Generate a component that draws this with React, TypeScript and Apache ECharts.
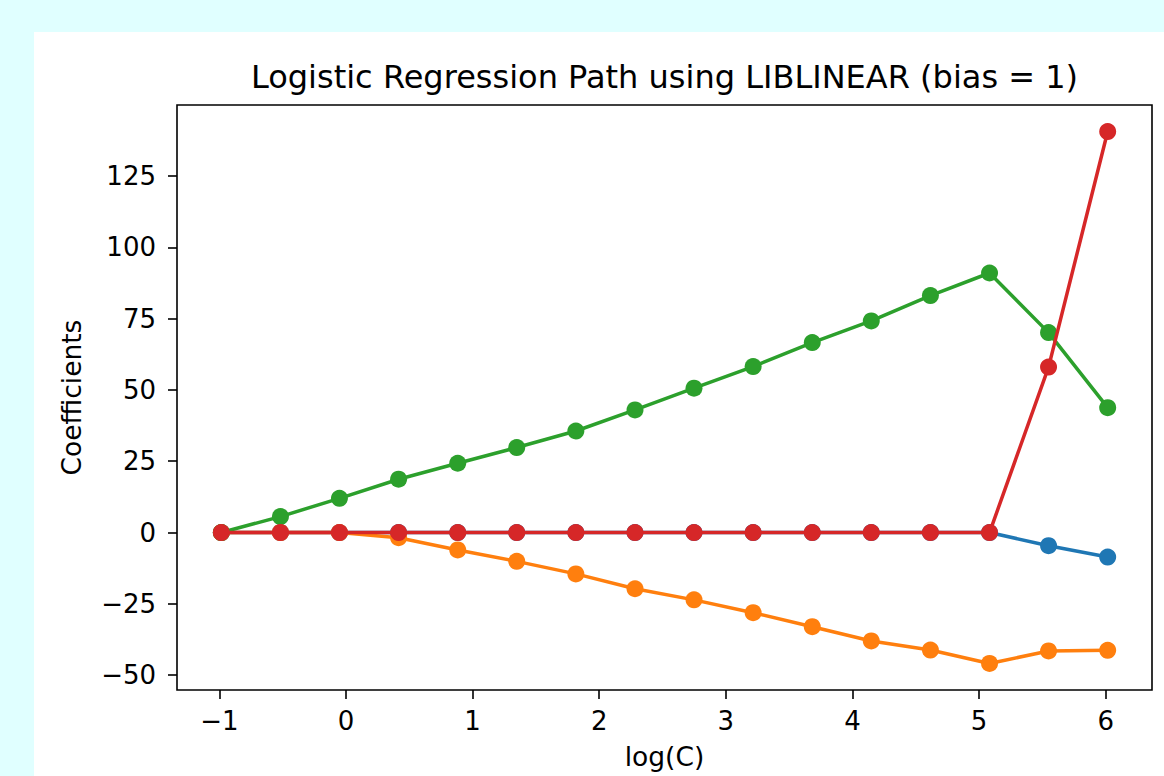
import React, { useEffect, useRef } from "react";
import * as echarts from "echarts";

const logC = [-0.984, -0.517, -0.051, 0.416, 0.883, 1.349, 1.816, 2.283, 2.749, 3.216, 3.683, 4.149, 4.616, 5.083, 5.549, 6.016];
const coefBlue = [0, 0, 0, 0, 0, 0, 0, 0, 0, 0, 0, 0, 0, 0, -4.6, -8.6];
const coefOrange = [0, 0, 0, -1.8, -6.1, -10.1, -14.5, -19.7, -23.6, -28.1, -33.0, -38.0, -41.2, -45.9, -41.5, -41.3];
const coefGreen = [0, 5.6, 12.0, 18.7, 24.3, 29.8, 35.6, 43.0, 50.6, 58.2, 66.6, 74.2, 83.1, 91.0, 70.1, 43.8];
const coefRed = [0, 0, 0, 0, 0, 0, 0, 0, 0, 0, 0, 0, 0, 0, 58.0, 140.6];
const xTicks = [-1, 0, 1, 2, 3, 4, 5, 6];
const yTicks = [-50, -25, 0, 25, 50, 75, 100, 125];
const seriesColors = ["#1f77b4", "#ff7f0e", "#2ca02c", "#d62728"];
const seriesNames = ["coef 0", "coef 1", "coef 2", "coef 3"];

const FONT = "DejaVu Sans";
const fmt = (v: number) => String(v).replace("-", "\u2212");

export default function App() {
  const ref = useRef<HTMLDivElement>(null);
  useEffect(() => {
    if (!ref.current) return;
    const chart = echarts.init(ref.current, null, { renderer: "svg" });
    const all = [coefBlue, coefOrange, coefGreen, coefRed];
    const gridLeft = 177, gridTop = 105, gridW = 975, gridH = 585;
    chart.setOption({
      animation: false,
      backgroundColor: "#e0ffff",
      graphic: [
        { type: "rect", z: -10, shape: { x: 34, y: 32, width: 1130, height: 744 }, style: { fill: "#ffffff" } },
        {
          type: "text", x: gridLeft + gridW / 2, y: 77,
          style: { text: "Logistic Regression Path using LIBLINEAR (bias = 1)", font: `32px "${FONT}"`, fill: "#000", align: "center", verticalAlign: "middle" },
        },
        {
          type: "text", x: gridLeft + gridW / 2, y: 756,
          style: { text: "log(C)", font: `26.5px "${FONT}"`, fill: "#000", align: "center", verticalAlign: "middle" },
        },
        {
          type: "text", x: 71, y: gridTop + gridH / 2, rotation: Math.PI / 2,
          style: { text: "Coefficients", font: `26.5px "${FONT}"`, fill: "#000", align: "center", verticalAlign: "middle" },
        },
      ],
      grid: { left: gridLeft, top: gridTop, width: gridW, height: gridH, show: true, borderColor: "#000", borderWidth: 1.6, backgroundColor: "transparent" },
      xAxis: {
        type: "value", min: -1.334, max: 6.366, position: "bottom",
        axisLine: { show: false, onZero: false },
        splitLine: { show: false },
        axisTick: { show: true, length: 9, inside: false, customValues: xTicks, lineStyle: { color: "#000", width: 1.6 } },
        axisLabel: { show: true, margin: 18, customValues: xTicks, formatter: (v: number) => fmt(v), color: "#000", fontFamily: FONT, fontSize: 26 },
      },
      yAxis: {
        type: "value", min: -55.2, max: 149.9, position: "left",
        axisLine: { show: false, onZero: false },
        splitLine: { show: false },
        axisTick: { show: true, length: 9, inside: false, customValues: yTicks, lineStyle: { color: "#000", width: 1.6 } },
        axisLabel: { show: true, margin: 21, customValues: yTicks, formatter: (v: number) => fmt(v), color: "#000", fontFamily: FONT, fontSize: 26 },
      },
      series: all.map((vals, i) => ({
        type: "line",
        name: seriesNames[i],
        z: 2 + i,
        data: logC.map((x, k) => [x, vals[k]]),
        symbol: "circle",
        symbolSize: 17,
        showSymbol: true,
        clip: false,
        lineStyle: { color: seriesColors[i], width: 3.5 },
        itemStyle: { color: seriesColors[i] },
        emphasis: { disabled: true },
      })),
    });
    return () => chart.dispose();
  }, []);
  return <div ref={ref} style={{ position: "fixed", left: 0, top: 0, width: 1164, height: 776 }} />;
}
